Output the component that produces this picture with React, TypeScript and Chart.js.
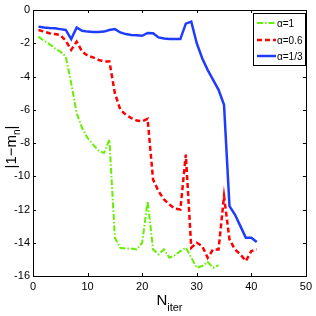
import React, { useEffect, useRef } from "react";
import { Chart, registerables } from "chart.js";

Chart.register(...registerables);

const iterations1: number[] = Array.from({ length: 34 }, (_, i) => i + 1);
const iterations06: number[] = Array.from({ length: 41 }, (_, i) => i + 1);
const iterations13: number[] = Array.from({ length: 41 }, (_, i) => i + 1);

const alpha1: number[] = [
  -1.6, -1.85, -2.05, -2.3, -2.5, -2.8, -4.4, -6.2, -7.1, -7.7,
  -8.1, -8.45, -8.6, -7.8, -13.7, -14.3, -14.35, -14.35, -14.4, -14.0,
  -11.5, -14.4, -14.7, -14.4, -14.9, -14.75, -14.5, -14.3, -14.9, -15.5,
  -15.4, -15.15, -15.5, -15.35,
];

const alpha06: number[] = [
  -1.2, -1.3, -1.4, -1.45, -1.5, -1.85, -2.4, -1.9, -2.5, -2.75,
  -2.85, -3.0, -3.1, -3.1, -5.0, -6.0, -6.3, -6.5, -6.65, -6.7,
  -6.55, -10.2, -10.9, -11.4, -11.7, -11.95, -12.0, -8.7, -14.3, -14.0,
  -14.2, -14.9, -14.4, -14.4, -11.2, -13.8, -14.4, -14.7, -15.1, -14.5,
  -14.4,
];

const alpha13: number[] = [
  -1.0, -1.05, -1.08, -1.1, -1.15, -1.2, -1.75, -1.05, -1.25, -1.3,
  -1.32, -1.33, -1.3, -1.2, -1.15, -1.35, -1.45, -1.5, -1.52, -1.55,
  -1.38, -1.4, -1.65, -1.72, -1.74, -1.75, -1.75, -0.82, -0.7, -2.0,
  -2.9, -3.6, -4.2, -4.8, -5.7, -11.8, -12.3, -13.0, -13.7, -13.7,
  -13.95,
];

const seriesLabels: string[] = ["α=1", "α=0.6", "α=1/3"];
const seriesColors: string[] = ["rgb(100,240,0)", "rgb(255,0,0)", "rgb(30,60,255)"];
const seriesDashes: number[][] = [[6, 2, 1.5, 2], [5, 3], []];
const seriesWidths: number[] = [2, 2.5, 2.5];

const xMin = 0, xMax = 50, xStep = 10;
const yMin = -16, yMax = 0, yStep = 2;

const FONT = "'Liberation Sans', Arial, Helvetica, sans-serif";

const framePlugin = {
  id: "frame",
  afterDraw(chart: any) {
    const ctx = chart.ctx as CanvasRenderingContext2D;
    const { left, right, top, bottom } = chart.chartArea;
    const xs = chart.scales.x;
    const ys = chart.scales.y;
    ctx.save();
    // box
    ctx.strokeStyle = "#000";
    ctx.lineWidth = 1;
    ctx.setLineDash([]);
    ctx.strokeRect(Math.round(left) + 0.5, Math.round(top) + 0.5, Math.round(right - left), Math.round(bottom - top));
    // inward ticks
    const tl = 3;
    ctx.beginPath();
    for (let v = xMin; v <= xMax; v += xStep) {
      const px = Math.round(xs.getPixelForValue(v)) + 0.5;
      ctx.moveTo(px, bottom);
      ctx.lineTo(px, bottom - tl);
      ctx.moveTo(px, top);
      ctx.lineTo(px, top + tl);
    }
    for (let v = yMin; v <= yMax; v += yStep) {
      const py = Math.round(ys.getPixelForValue(v)) + 0.5;
      ctx.moveTo(left, py);
      ctx.lineTo(left + tl, py);
      ctx.moveTo(right, py);
      ctx.lineTo(right - tl, py);
    }
    ctx.stroke();

    // x title N_iter
    ctx.fillStyle = "#000";
    ctx.textBaseline = "alphabetic";
    ctx.font = `15px ${FONT}`;
    const nW = ctx.measureText("N").width;
    ctx.font = `11px ${FONT}`;
    const subW = ctx.measureText("iter").width;
    const cx = (left + right) / 2;
    const x0 = cx - (nW + subW) / 2;
    ctx.font = `15px ${FONT}`;
    ctx.textAlign = "left";
    ctx.fillText("N", x0, 305);
    ctx.font = `11px ${FONT}`;
    ctx.fillText("iter", x0 + nW, 311);

    // y title |1−m_n|
    ctx.save();
    ctx.translate(16, 147);
    ctx.rotate(-Math.PI / 2);
    ctx.font = `15px ${FONT}`;
    const a = "|1\u2212m";
    const aW = ctx.measureText(a).width;
    ctx.font = `10px ${FONT}`;
    const nSubW = ctx.measureText("n").width;
    ctx.font = `15px ${FONT}`;
    const bW = ctx.measureText("|").width;
    const total = aW + nSubW + bW;
    let sx = -total / 2;
    ctx.fillText(a, sx, 0);
    sx += aW;
    ctx.font = `10px ${FONT}`;
    ctx.fillText("n", sx, 4);
    sx += nSubW;
    ctx.font = `15px ${FONT}`;
    ctx.fillText("|", sx, 0);
    ctx.restore();

    // legend
    const lx = 253, ly = 13, lw = 52, lh = 52;
    ctx.fillStyle = "#fff";
    ctx.fillRect(lx, ly, lw, lh);
    ctx.strokeStyle = "#000";
    ctx.lineWidth = 1;
    ctx.strokeRect(lx + 0.5, ly + 0.5, lw, lh);
    const rows = [23, 40, 56];
    for (let i = 0; i < seriesLabels.length; i++) {
      const ry = rows[i];
      ctx.beginPath();
      ctx.strokeStyle = seriesColors[i];
      ctx.lineWidth = seriesWidths[i];
      ctx.setLineDash(seriesDashes[i]);
      ctx.moveTo(257, ry);
      ctx.lineTo(276, ry);
      ctx.stroke();
      ctx.setLineDash([]);
      ctx.fillStyle = "#000";
      ctx.font = `10px ${FONT}`;
      ctx.textBaseline = "middle";
      ctx.textAlign = "left";
      ctx.fillText(seriesLabels[i], 277, ry + 1);
    }
    ctx.restore();
  },
};

export default function App() {
  const ref = useRef<HTMLCanvasElement | null>(null);
  useEffect(() => {
    if (!ref.current) return;
    const xsets = [iterations1, iterations06, iterations13];
    const ysets = [alpha1, alpha06, alpha13];
    const chart = new Chart(ref.current, {
      type: "line",
      data: {
        datasets: ysets.map((vals, i) => ({
          label: seriesLabels[i],
          data: vals.map((v, j) => ({ x: xsets[i][j], y: v })),
          borderColor: seriesColors[i],
          backgroundColor: seriesColors[i],
          borderWidth: seriesWidths[i],
          borderDash: seriesDashes[i],
          pointRadius: 0,
          tension: 0,
          fill: false,
        })),
      },
      options: {
        animation: false,
        responsive: false,
        maintainAspectRatio: false,
        layout: { padding: { left: 0, top: 10, right: 8, bottom: 0 } },
        plugins: { legend: { display: false }, tooltip: { enabled: false } },
        scales: {
          x: {
            type: "linear",
            min: xMin,
            max: xMax,
            grid: { display: false, drawTicks: false },
            border: { display: false },
            ticks: {
              stepSize: xStep,
              color: "#000",
              padding: 4,
              maxRotation: 0,
              font: { family: FONT, size: 11 },
            },
            afterFit: (s: any) => { s.height = 40; },
          },
          y: {
            type: "linear",
            min: yMin,
            max: yMax,
            grid: { display: false, drawTicks: false },
            border: { display: false },
            ticks: {
              stepSize: yStep,
              color: "#000",
              padding: 3,
              font: { family: FONT, size: 11 },
            },
            afterFit: (s: any) => { s.width = 33; },
          },
        },
      },
      plugins: [framePlugin],
    });
    return () => chart.destroy();
  }, []);
  return (
    <div style={{ position: "fixed", left: 0, top: 0, width: 316, height: 316, background: "#fff" }}>
      <canvas ref={ref} width={316} height={316} style={{ width: 316, height: 316, display: "block" }} />
    </div>
  );
}
